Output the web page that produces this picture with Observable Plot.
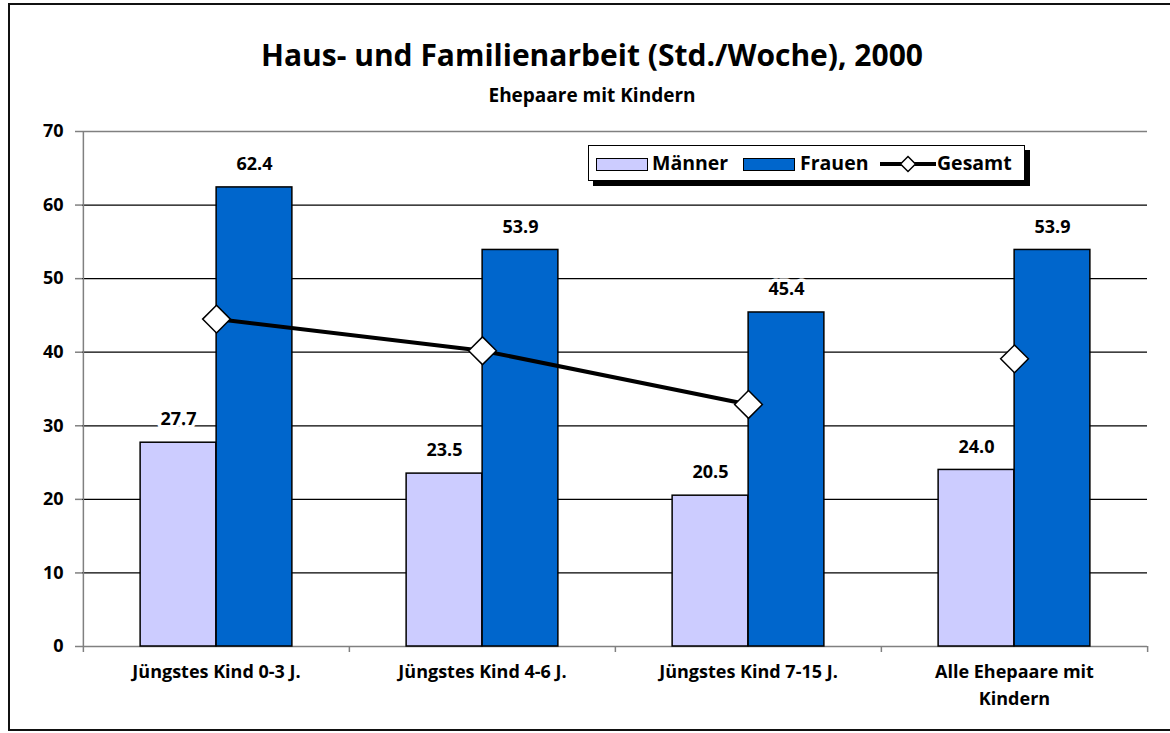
<!DOCTYPE html>
<html>
<head>
<meta charset="utf-8">
<script src="https://cdn.jsdelivr.net/npm/d3@7"></script>
<script src="https://cdn.jsdelivr.net/npm/@observablehq/plot@0.6"></script>
<style>
  body { margin: 0; background: #fff; font-family: "Open Sans", sans-serif; }
  #wrap { position: relative; width: 1170px; height: 733px; overflow: hidden; background: #fff; }
  #frame { position: absolute; left: 8px; top: 3px; width: 1185px; height: 728px; border: 2px solid #111; box-sizing: border-box; }
  #chart { position: absolute; left: 0; top: 0; }
  .title { position: absolute; left: 0; width: 1184px; text-align: center; font-weight: bold; color: #000; white-space: nowrap; }
  #t1 { top: 37px; font-size: 30px; line-height: 36px; }
  #t2 { top: 82px; font-size: 19px; line-height: 26px; }
  #legend { position: absolute; left: 588px; top: 145px; width: 437px; height: 36px; border: 1px solid #000; box-sizing: border-box; background: #fff; box-shadow: 5px 5px 0 #000; font-weight: bold; font-size: 19.5px; }
  #legend .sw { position: absolute; top: 12px; width: 52px; height: 13px; border: 1.5px solid #000; box-sizing: border-box; }
  #legend .lt { position: absolute; top: 4px; line-height: 26px; white-space: nowrap; }
  #legend svg { position: absolute; top: 8px; }
</style>
</head>
<body>
<div id="wrap">
  <div id="frame"></div>
  <div id="chart"></div>
  <div class="title" id="t1"></div>
  <div class="title" id="t2"></div>
  <div id="legend"></div>
</div>
<script>
// ---- data ----
const title = "Haus- und Familienarbeit (Std./Woche), 2000";
const subtitle = "Ehepaare mit Kindern";
const categories = ["Jüngstes Kind 0-3 J.", "Jüngstes Kind 4-6 J.", "Jüngstes Kind 7-15 J.", "Alle Ehepaare mit Kindern"];
const categoryLabels = ["Jüngstes Kind 0-3 J.", "Jüngstes Kind 4-6 J.", "Jüngstes Kind 7-15 J.", "Alle Ehepaare mit\nKindern"];
const maenner = [27.7, 23.5, 20.5, 24.0];
const frauen = [62.4, 53.9, 45.4, 53.9];
const gesamt = [44.5, 40.2, 32.9, 39.1];
const gesamtConnected = [true, true, true, false];
const yTicks = [0, 10, 20, 30, 40, 50, 60, 70];
const seriesNames = ["Männer", "Frauen", "Gesamt"];
const colors = {"Männer": "#CCCCFF", "Frauen": "#0066CC"};

// ---- layout ----
const W = 1170, H = 733;
const mL = 82, mR = 23, mT = 131, mB = 87;
const band = (W - mL - mR) / categories.length;
const half = band / 2;
const barW = 76;

const rows = categories.map((c, i) => ({cat: c, m: maenner[i], f: frauen[i], g: gesamt[i], linked: gesamtConnected[i]}));

const bold = {fontSize: 18, fontWeight: "bold", fill: "#000"};

const plot = Plot.plot({
  width: W, height: H,
  marginLeft: mL, marginRight: mR, marginTop: mT, marginBottom: mB,
  style: {fontFamily: "'Open Sans', sans-serif", background: "transparent", overflow: "visible"},
  x: {type: "band", domain: categories, padding: 0, axis: null, label: null},
  y: {domain: [0, 70], axis: null, label: null},
  marks: [
    Plot.ruleY(yTicks.filter(v => v > 0 && v < 70), {stroke: "#000", strokeWidth: 1.2}),
    Plot.ruleY([70], {stroke: "#808080", strokeWidth: 1.5}),
    Plot.ruleY([0], {stroke: "#808080", strokeWidth: 1.5}),
    Plot.axisY({ticks: yTicks, tickSize: 7, tickPadding: 12, stroke: "#808080", strokeWidth: 1.5, ...bold, label: null, tickFormat: d => String(d)}),
    Plot.ruleX([categories[0]], {x: d => d, y1: 0, y2: 70, dx: -half, stroke: "#808080", strokeWidth: 1.5}),
    Plot.ruleX(categories, {x: d => d, y1: 0, insetBottom: -6, dx: -half, stroke: "#808080", strokeWidth: 1.5}),
    Plot.ruleX([categories[categories.length - 1]], {x: d => d, y1: 0, insetBottom: -6, dx: half, stroke: "#808080", strokeWidth: 1.5}),
    Plot.axisX({tickSize: 0, tickPadding: 12, ...bold, lineHeight: 1.5, label: null, tickFormat: d => categoryLabels[categories.indexOf(d)]}),
    Plot.barY(rows, {x: "cat", y: "m", fill: colors["Männer"], stroke: "#000", strokeWidth: 1.5, insetLeft: half - barW, insetRight: half}),
    Plot.barY(rows, {x: "cat", y: "f", fill: colors["Frauen"], stroke: "#000", strokeWidth: 1.5, insetLeft: half, insetRight: half - barW}),
    Plot.text(rows, {x: "cat", y: "m", text: d => d.m.toFixed(1), dx: -barW / 2, dy: -23, ...bold, stroke: "#fff", strokeWidth: 7, paintOrder: "stroke"}),
    Plot.text(rows, {x: "cat", y: "f", text: d => d.f.toFixed(1), dx: barW / 2, dy: -23, ...bold, stroke: "#fff", strokeWidth: 7, paintOrder: "stroke"}),
    Plot.line(rows.filter(d => d.linked), {x: "cat", y: "g", stroke: "#000", strokeWidth: 4}),
    Plot.dot(rows, {x: "cat", y: "g", symbol: "diamond2", r: 12.5, fill: "#fff", stroke: "#000", strokeWidth: 1.5})
  ]
});
document.getElementById("chart").appendChild(plot);

document.getElementById("t1").textContent = title;
document.getElementById("t2").textContent = subtitle;

// ---- legend ----
const legend = document.getElementById("legend");
const items = [
  {kind: "swatch", name: seriesNames[0], color: colors["Männer"], sx: 7, tx: 63},
  {kind: "swatch", name: seriesNames[1], color: colors["Frauen"], sx: 154, tx: 211},
  {kind: "line", name: seriesNames[2], sx: 291, tx: 348}
];
for (const it of items) {
  if (it.kind === "swatch") {
    const s = document.createElement("div");
    s.className = "sw"; s.style.left = it.sx + "px"; s.style.background = it.color;
    legend.appendChild(s);
  } else {
    const ns = "http://www.w3.org/2000/svg";
    const svg = document.createElementNS(ns, "svg");
    svg.setAttribute("width", 56); svg.setAttribute("height", 20);
    svg.style.left = it.sx + "px";
    const ln = document.createElementNS(ns, "line");
    ln.setAttribute("x1", 0); ln.setAttribute("x2", 56); ln.setAttribute("y1", 10); ln.setAttribute("y2", 10);
    ln.setAttribute("stroke", "#000"); ln.setAttribute("stroke-width", 4);
    svg.appendChild(ln);
    const p = document.createElementNS(ns, "path");
    p.setAttribute("d", "M28,2.5L35.5,10L28,17.5L20.5,10Z");
    p.setAttribute("fill", "#fff"); p.setAttribute("stroke", "#000"); p.setAttribute("stroke-width", 1.5);
    svg.appendChild(p);
    legend.appendChild(svg);
  }
  const t = document.createElement("div");
  t.className = "lt"; t.style.left = it.tx + "px"; t.textContent = it.name;
  legend.appendChild(t);
}
</script>
</body>
</html>
